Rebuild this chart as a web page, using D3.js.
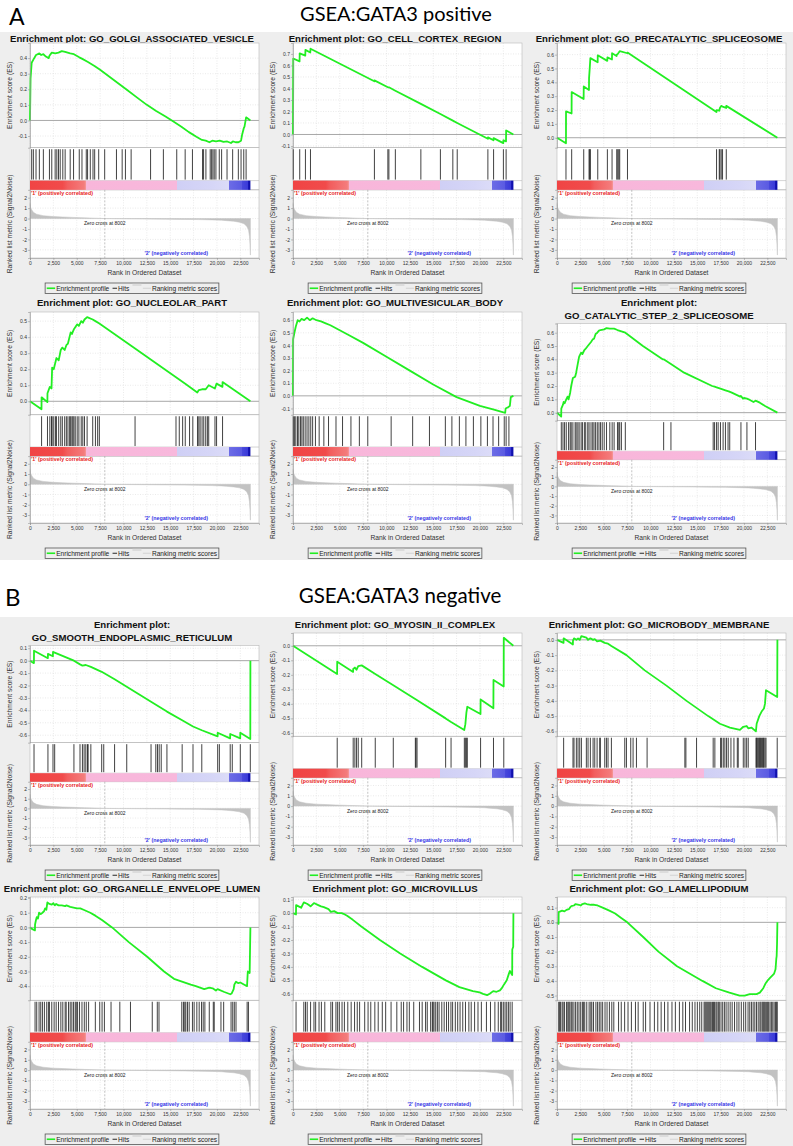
<!DOCTYPE html>
<html><head><meta charset="utf-8">
<script src="https://cdn.jsdelivr.net/npm/d3@7"></script>
<style>
body{margin:0;background:#fff;}
svg{display:block;}
text{font-family:"Liberation Sans",Arial,sans-serif;}
</style></head><body>
<svg id="c" width="793" height="1146"></svg>
<script>
// ---------------- DATA ----------------
const xTicks = [0,2500,5000,7500,10000,12500,15000,17500,20000,22500];
const metricTicks = [2,1,0,-1,-2,-3];
const N_GENES = 23580;
const RANK_MAX = 24500;
const ZERO_CROSS = 8002;
const METRIC_DOMAIN = [-3.78, 2.75];

const metricCurve = [[0,1.45],[60,1.1],[180,0.85],[360,0.6],[700,0.42],[1400,0.28],[2500,0.19],[3500,0.15],[4600,0.11],[5800,0.07],[7000,0.035],[8002,0],[9500,-0.02],[12000,-0.04],[14500,-0.06],[16500,-0.08],[18000,-0.1],[19500,-0.13],[20500,-0.16],[21000,-0.2],[21800,-0.26],[22400,-0.35],[22900,-0.5],[23200,-0.75],[23380,-1.1],[23480,-1.7],[23540,-2.5],[23580,-3.5]];

const colorBarStops = [[0,"#f04444"],[3500,"#f14b4b"],[4000,"#f25e5e"],[5800,"#f47c7c"],[5990,"#f59a9a"],[6000,"#f8b6da"],[15700,"#f8b8dc"],[15710,"#cfcff5"],[19500,"#d6d6f7"],[21300,"#dcdcf8"],[21310,"#6c6ce6"],[22700,"#5a5ae2"],[22710,"#4848dc"],[23300,"#3a3ad8"],[23310,"#1a1ab8"],[23580,"#0a0aa8"]];

const titles = [
 ["Enrichment plot: GO_GOLGI_ASSOCIATED_VESICLE"],
 ["Enrichment plot: GO_CELL_CORTEX_REGION"],
 ["Enrichment plot: GO_PRECATALYTIC_SPLICEOSOME"],
 ["Enrichment plot: GO_NUCLEOLAR_PART"],
 ["Enrichment plot: GO_MULTIVESICULAR_BODY"],
 ["Enrichment plot:","GO_CATALYTIC_STEP_2_SPLICEOSOME"],
 ["Enrichment plot:","GO_SMOOTH_ENDOPLASMIC_RETICULUM"],
 ["Enrichment plot: GO_MYOSIN_II_COMPLEX"],
 ["Enrichment plot: GO_MICROBODY_MEMBRANE"],
 ["Enrichment plot: GO_ORGANELLE_ENVELOPE_LUMEN"],
 ["Enrichment plot: GO_MICROVILLUS"],
 ["Enrichment plot: GO_LAMELLIPODIUM"]
];

const esDomains = [[-0.175,0.497],[-0.115,0.795],[-0.072,0.684],[-0.084,0.557],[-0.15,0.665],[-0.06,0.669],
                   [-0.66,0.122],[-0.623,0.088],[-0.632,0.045],[-0.496,0.207],[-0.648,0.12],[-0.532,0.173]];

const golgiCurve = [[0,0],[60,0.27],[180,0.37],[360,0.39],[645,0.42],[1000,0.43],[1200,0.42],[1430,0.425],[1700,0.41],[2000,0.40],[2080,0.415],[2330,0.435],[2700,0.43],[3050,0.435],[3400,0.445],[3760,0.44],[4300,0.43],[4700,0.425],[5270,0.405],[5600,0.395],[6200,0.375],[6900,0.35],[7500,0.325],[8500,0.28],[9500,0.235],[10500,0.19],[11500,0.145],[12500,0.1],[13500,0.06],[14500,0.025],[15300,-0.005],[16200,-0.04],[17000,-0.075],[17800,-0.105],[18400,-0.125],[18800,-0.13],[19200,-0.14],[19500,-0.13],[19900,-0.135],[20300,-0.13],[20700,-0.138],[21100,-0.135],[21500,-0.145],[21700,-0.135],[22000,-0.14],[22300,-0.14],[22580,-0.13],[22700,-0.09],[22870,-0.05],[22950,-0.04],[23120,0.02],[23300,0.012],[23580,0.0]];
const golgiHits = [180,360,645,1000,1430,2080,2330,2690,2870,3050,3230,3510,3760,4300,4660,5270,5560,6020,6160,6450,6740,6920,7350,7990,9250,9860,10210,10820,12900,14270,15700,16600,17380,18460,18570,18820,19280,19430,19570,19710,19890,20250,20500,21080,21680,22290,22580,22870,23120];

const cortexCurve = [[0,0],[30,0.66],[700,0.635],[720,0.705],[1310,0.685],[1330,0.735],[1850,0.713],[1870,0.745],[8700,0.462],[8710,0.47],[10150,0.41],[10260,0.41],[10950,0.38],[13680,0.266],[15770,0.178],[17100,0.12],[17570,0.1],[20850,-0.037],[20860,-0.025],[21450,-0.05],[21460,-0.032],[22500,-0.075],[22510,-0.05],[22790,-0.06],[22800,0.035],[23580,0.0]];
const cortexHits = [30,720,1330,1870,8710,10150,10260,10950,13680,15770,17100,17570,20850,21460,22510,22800];

const precatCurve = [[0,0],[960,-0.04],[965,0.19],[1560,0.175],[1570,0.33],[2850,0.28],[2860,0.37],[3420,0.345],[3430,0.43],[3500,0.5],[3570,0.575],[4350,0.545],[4360,0.595],[5380,0.555],[5390,0.58],[5880,0.565],[5890,0.61],[6380,0.59],[6390,0.6],[6500,0.605],[6610,0.615],[6710,0.625],[7530,0.61],[7540,0.615],[17060,0.185],[17070,0.2],[17360,0.195],[17430,0.215],[17570,0.23],[17710,0.225],[18100,0.215],[18110,0.23],[23580,0.0]];
const precatHits = [960,1570,2860,3430,3500,3570,4360,5390,5890,6390,6500,6610,6710,7540,17070,17360,17430,17570,17710,18110];

const nucleolarCurve = [[0,0],[1230,-0.05],[1240,0.025],[1860,-0.005],[1870,0.05],[2120,0.09],[2300,0.08],[2370,0.21],[2540,0.2],[2830,0.27],[3070,0.255],[3290,0.32],[3460,0.335],[3710,0.32],[3890,0.35],[4060,0.36],[4350,0.43],[4490,0.42],[4700,0.45],[5050,0.48],[5230,0.47],[5480,0.5],[5650,0.49],[5830,0.51],[6110,0.525],[6710,0.51],[7000,0.5],[7420,0.485],[11240,0.33],[15620,0.15],[16610,0.11],[17900,0.055],[18060,0.07],[18400,0.075],[18800,0.075],[19120,0.1],[19780,0.08],[19960,0.11],[20590,0.09],[20600,0.12],[23580,0.0]];
const nucleolarHits = [1240,1870,2120,2300,2370,2540,2720,2830,3070,3290,3460,3710,3890,4060,4240,4350,4490,4590,4700,4840,5050,5230,5480,5650,5830,6110,6710,7000,7240,7420,11240,15620,15970,16330,16610,17070,17420,17920,18060,18200,18410,18590,18800,18980,19120,19790,19960,20600];

const multiCurve = [[0,0],[20,0.45],[150,0.5],[300,0.55],[500,0.6],[700,0.59],[900,0.61],[1200,0.6],[1500,0.62],[1800,0.6],[2100,0.615],[2500,0.6],[3000,0.59],[3500,0.575],[4000,0.56],[5000,0.52],[6000,0.48],[7500,0.42],[10000,0.31],[12500,0.2],[15000,0.09],[17500,-0.01],[20000,-0.08],[21500,-0.11],[22700,-0.135],[22750,-0.1],[23000,-0.09],[23200,-0.08],[23300,-0.01],[23580,0.0]];
const multiHits = [30,150,300,480,620,800,950,1100,1300,1500,1700,1900,2100,2400,2800,3300,3800,4600,5300,6200,7100,8000,10500,12800,14600,16300,17000,17800,18500,19300,20100,20800,21400,22000,22600,22800,23100];

const catCurve = [[0,0],[450,-0.03],[460,0.03],[640,0.06],[710,0.08],[810,0.07],[990,0.1],[1130,0.12],[1240,0.1],[1410,0.15],[1520,0.2],[1700,0.26],[1940,0.27],[2050,0.3],[2230,0.37],[2370,0.42],[2580,0.45],[2720,0.44],[2930,0.47],[3070,0.48],[3290,0.5],[3640,0.53],[3820,0.55],[3960,0.555],[4130,0.59],[4310,0.6],[4490,0.615],[4660,0.62],[5050,0.625],[5300,0.635],[5650,0.63],[6110,0.63],[6470,0.62],[6890,0.61],[7310,0.6],[7600,0.585],[9190,0.5],[11300,0.4],[11410,0.4],[12190,0.365],[13600,0.3],[16600,0.2],[16860,0.195],[17070,0.19],[17490,0.18],[18020,0.168],[18370,0.16],[18700,0.15],[19600,0.12],[19680,0.125],[19900,0.105],[20000,0.11],[20320,0.105],[20500,0.1],[21020,0.08],[21240,0.09],[21700,0.075],[22260,0.05],[23580,0.0]];
const catHits = [460,640,810,990,1240,1410,1520,1700,1940,2050,2230,2370,2580,2720,2930,3070,3290,3430,3640,3820,3960,4130,4310,4490,4660,4840,5050,5300,5650,5900,6110,6470,6610,6710,6890,7310,11410,12190,16710,16860,17070,17240,17490,17770,18020,18300,18480,19680,20320,21240];

const smoothCurve = [[0,0],[420,-0.02],[430,0.08],[1910,0.02],[1920,0.055],[2450,0.035],[2460,0.07],[2640,0.065],[4700,0.0],[5350,-0.03],[5610,-0.04],[5970,-0.035],[6510,-0.05],[7670,-0.09],[9050,-0.15],[10350,-0.21],[12950,-0.33],[14650,-0.41],[16280,-0.48],[17440,-0.53],[18380,-0.56],[20070,-0.61],[20080,-0.58],[21410,-0.625],[21420,-0.59],[22490,-0.625],[22500,-0.58],[23570,-0.63],[23580,0.0]];
const smoothHits = [430,1920,2460,2640,4700,5350,5610,5790,5970,6150,6220,6510,7670,7890,9050,10350,12950,13460,13640,13820,14040,14650,16280,17440,18380,20080,20260,21420,21640,22500,23570];

const myosinCurve = [[0,0],[4720,-0.195],[4730,-0.11],[6430,-0.18],[6440,-0.16],[6620,-0.15],[6790,-0.165],[6980,-0.14],[7350,-0.135],[8800,-0.195],[10730,-0.272],[13160,-0.37],[16330,-0.5],[16910,-0.525],[18320,-0.58],[18440,-0.54],[18550,-0.46],[18650,-0.42],[20060,-0.47],[20070,-0.37],[21440,-0.43],[21450,-0.235],[22540,-0.28],[22550,0.055],[23580,0.0]];
const myosinHits = [4730,6440,6620,6800,6980,7350,8800,10730,13090,13160,13270,16330,16910,18330,18440,18550,18650,20070,21450,22550];

const microbodyCurve = [[0,0],[700,-0.02],[710,0.01],[1700,-0.03],[1710,-0.005],[1820,0.01],[2070,0.0],[2250,0.01],[2430,0.0],[2610,0.025],[3140,0.015],[3320,0.0],[3570,0.01],[3860,0.0],[4040,0.005],[4290,-0.01],[4640,-0.005],[5110,-0.02],[5460,-0.025],[5820,-0.04],[7430,-0.1],[9390,-0.2],[11710,-0.3],[13860,-0.4],[16180,-0.5],[17430,-0.55],[18500,-0.575],[19570,-0.59],[19930,-0.57],[20290,-0.565],[20460,-0.58],[20800,-0.575],[21280,-0.6],[21360,-0.55],[21640,-0.5],[21890,-0.47],[22140,-0.45],[22250,-0.42],[22360,-0.33],[23560,-0.375],[23580,0.0]];
const microbodyHits = [710,1710,1820,2070,2250,2430,2610,3140,3320,3570,3860,4040,4290,4570,4640,5110,5290,5460,5820,7250,7430,7890,8140,8500,9640,13680,13790,14930,16710,16890,17500,17610,17790,17960,18140,18320,18610,18930,19290,19390,19930,20110,20290,20460,21290,21360,21430,21540,21640,21710,21790,21890,22000,22070,22140,22250,22360,23560];

const organelleCurve = [[0,0],[200,-0.01],[530,-0.02],[540,0.02],[640,0.05],[720,0.07],[850,0.06],[970,0.1],[1150,0.09],[1330,0.1],[1500,0.11],[1620,0.13],[1750,0.12],[1860,0.17],[2080,0.16],[2330,0.155],[2500,0.165],[2650,0.15],[2800,0.16],[3050,0.15],[3400,0.15],[3760,0.145],[3900,0.15],[4300,0.14],[4660,0.135],[5020,0.13],[5380,0.13],[5730,0.12],[6090,0.11],[6450,0.1],[6990,0.08],[7700,0.05],[8780,0.0],[10570,-0.1],[12540,-0.2],[14340,-0.3],[15400,-0.35],[17200,-0.39],[17740,-0.4],[18640,-0.42],[19180,-0.41],[19540,-0.415],[19890,-0.43],[20070,-0.42],[20790,-0.44],[21430,-0.455],[21580,-0.45],[21790,-0.42],[21860,-0.39],[22040,-0.37],[22290,-0.38],[22500,-0.375],[22930,-0.39],[23220,-0.4],[23300,-0.3],[23500,-0.31],[23580,0.0]];
const organelleHits = [540,720,970,1150,1330,1540,1790,1970,2080,2330,2580,2800,3050,3300,3510,3760,3870,4120,4300,4480,4660,4840,4950,5090,5300,5560,5810,6020,6270,6990,7460,7710,7960,8670,9610,10750,13080,13620,13800,16240,16420,16560,16670,16850,17030,17380,17560,17850,18100,18350,18530,18710,19180,19610,19710,20430,20720,21510,21690,21860,22040,23230,23370];

const microvillusCurve = [[0,0],[320,-0.01],[330,0.06],[600,0.05],[870,0.04],[1160,0.08],[1500,0.07],[1700,0.06],[1880,0.05],[2240,0.075],[2700,0.06],[3000,0.05],[3300,0.045],[3800,0.03],[4050,0.01],[4400,0.015],[4780,0.0],[5200,0.0],[5400,-0.005],[5790,-0.02],[6400,-0.05],[7310,-0.1],[9300,-0.2],[11470,-0.3],[13820,-0.4],[16350,-0.5],[17800,-0.55],[19250,-0.58],[19970,-0.59],[20330,-0.6],[20770,-0.61],[21050,-0.6],[21420,-0.58],[21780,-0.585],[22140,-0.575],[22320,-0.56],[22580,-0.53],[22870,-0.5],[23100,-0.45],[23200,-0.43],[23450,-0.46],[23460,-0.27],[23560,-0.25],[23580,0.0]];
const microvillusHits = [326,1158,1339,1520,1881,2243,2424,2786,3039,3401,4052,4233,4595,4776,4957,5246,5499,5861,6223,6585,6874,7127,7670,8032,8321,8755,9117,9552,9914,10492,11107,11578,11831,12193,12446,12916,13531,13820,14183,14363,14725,14906,14979,15087,15268,15449,15630,15919,16172,16425,16642,16896,17077,17366,17620,17873,18162,18452,18814,19067,19429,19791,20152,20695,21129,21599,21961,22214,22323,22504,22685,22866,23046,23227,23450];

const lamelliCurve = [[0,0],[170,-0.01],[180,0.07],[540,0.08],[800,0.075],[1010,0.085],[1270,0.09],[1380,0.1],[1520,0.11],[1810,0.115],[1990,0.125],[2350,0.12],[2530,0.115],[2720,0.125],[2970,0.13],[3180,0.125],[3620,0.12],[3980,0.12],[4340,0.115],[4880,0.1],[5600,0.08],[6220,0.06],[6870,0.03],[7520,0.0],[9220,-0.1],[10850,-0.2],[12840,-0.3],[15560,-0.4],[17000,-0.45],[18450,-0.48],[19540,-0.5],[20080,-0.5],[20620,-0.49],[21350,-0.49],[21700,-0.48],[22070,-0.45],[22290,-0.42],[22500,-0.4],[22790,-0.38],[23080,-0.36],[23230,-0.35],[23380,-0.32],[23460,-0.25],[23500,-0.23],[23540,-0.15],[23580,0.0]];
const lamelliHits = [181,289,362,543,651,796,1013,1158,1266,1375,1520,1628,1809,1990,2171,2352,2533,2714,2822,2967,3184,3437,3618,3727,3907,4161,4342,4523,4703,4884,5138,5355,5608,5861,6078,6585,6874,7236,7598,7960,8394,8683,9226,9479,9950,10420,10782,11143,11505,11867,12301,12663,13097,13459,13748,14183,14472,14761,15015,15268,15485,15738,15847,15955,16064,16172,16281,16390,16498,16643,16751,16860,17005,17113,17258,17366,17547,17728,17909,18090,18307,18524,18741,18995,19248,19465,19718,19972,20188,20441,20622,20803,20984,21165,21346,21527,21708,21817,21961,22070,22178,22287,22432,22540,22649,22794,22938,23083,23228,23372,23500,23560];

// -------------- BUILD TABLE ----------------
const curves = [golgiCurve,cortexCurve,precatCurve,nucleolarCurve,multiCurve,catCurve,smoothCurve,myosinCurve,microbodyCurve,organelleCurve,microvillusCurve,lamelliCurve];
const hitsList = [golgiHits,cortexHits,precatHits,nucleolarHits,multiHits,catHits,smoothHits,myosinHits,microbodyHits,organelleHits,microvillusHits,lamelliHits];
const panels = titles.map((t,i)=>({title:t, dom:esDomains[i], curve:curves[i], hits:hitsList[i]}));

// -------------- LAYOUT ----------------
const svg = d3.select("#c");
const BG = "#eeeeee";
const colX = [0,263,527];
const rows = [
  {titleY:38.5, plotTop:43, bottom:258},
  {titleY:302.5, plotTop:312, bottom:523},
  {titleY:624.5, plotTop:633, bottom:845},
  {titleY:888.5, plotTop:897, bottom:1109}
];
const GREEN = "#22ee22";

svg.append("rect").attr("x",0).attr("y",32).attr("width",793).attr("height",528).attr("fill",BG);
svg.append("rect").attr("x",0).attr("y",617).attr("width",793).attr("height",529).attr("fill",BG);

const hdrFont = "Lato, 'Open Sans', sans-serif";
svg.append("text").text("A").attr("x",9).attr("y",25).style("font-family",hdrFont).style("font-size","23px").attr("fill","#000");
svg.append("text").text("GSEA:GATA3 positive").attr("x",396).attr("y",21).attr("text-anchor","middle").style("font-family",hdrFont).style("font-size","20px").attr("fill","#000");
svg.append("text").text("B").attr("x",5).attr("y",606).style("font-family",hdrFont).style("font-size","24px").attr("fill","#000");
svg.append("text").text("GSEA:GATA3 negative").attr("x",400).attr("y",603).attr("text-anchor","middle").style("font-family",hdrFont).style("font-size","20.5px").attr("fill","#000");

const fmtX = d3.format(",");
const fmtES = v => (Math.abs(v)<1e-9?0:v).toFixed(1);

panels.forEach((p,i)=>{
  const col = i%3, row = rows[Math.floor(i/3)];
  const cx = colX[col];
  const cellC = cx + 132;
  const left = cx + 30, right = cx + 259, W = right-left;
  const two = p.title.length===2;
  const top = two ? row.titleY + 21 : row.plotTop;
  const bottom = row.bottom;
  const H = bottom - top;
  const esB = top + H*0.487;
  const cbT = esB + H*0.153;
  const cbB = cbT + H*0.043;
  const g = svg.append("g");

  const x = d3.scaleLinear().domain([0,RANK_MAX]).range([left,right]);
  const yE = d3.scaleLinear().domain(p.dom).range([esB,top]);
  const yM = d3.scaleLinear().domain(METRIC_DOMAIN).range([bottom,cbB]);

  p.title.forEach((t,k)=>{
    g.append("text").text(t).attr("x",cellC).attr("y",row.titleY+3.4+k*13.5)
     .attr("text-anchor","middle").style("font-size","9.6px").style("font-weight","bold").attr("fill","#111");
  });

  g.append("rect").attr("x",left).attr("y",top).attr("width",W).attr("height",bottom-top).attr("fill","#fff");

  const esTicks = d3.range(Math.ceil((p.dom[0]+0.004)*10), Math.floor((p.dom[1]-0.004)*10)+1).map(v=>v/10);

  const grid = g.append("g").attr("stroke","#d4d4d4").attr("stroke-width",0.5).attr("stroke-dasharray","1,1.5");
  xTicks.forEach(t=>{
    grid.append("line").attr("x1",x(t)).attr("x2",x(t)).attr("y1",top).attr("y2",esB);
    grid.append("line").attr("x1",x(t)).attr("x2",x(t)).attr("y1",cbB).attr("y2",bottom);
  });
  esTicks.forEach(t=>{ if(Math.abs(t)>1e-9) grid.append("line").attr("x1",left).attr("x2",right).attr("y1",yE(t)).attr("y2",yE(t)); });
  metricTicks.forEach(t=>{ grid.append("line").attr("x1",left).attr("x2",right).attr("y1",yM(t)).attr("y2",yM(t)); });

  g.append("line").attr("x1",left).attr("x2",right).attr("y1",yE(0)).attr("y2",yE(0)).attr("stroke","#a8a8a8").attr("stroke-width",1);

  const fr = g.append("g").attr("fill","none").attr("stroke","#b8b8b8").attr("stroke-width",0.6);
  fr.append("rect").attr("x",left).attr("y",top).attr("width",W).attr("height",esB-top);
  fr.append("rect").attr("x",left).attr("y",esB).attr("width",W).attr("height",cbB-esB);
  fr.append("line").attr("x1",left).attr("x2",right).attr("y1",cbT).attr("y2",cbT);
  fr.append("rect").attr("x",left).attr("y",cbB).attr("width",W).attr("height",bottom-cbB);

  g.append("path").datum(p.curve)
   .attr("d", d3.line().x(d=>x(d[0])).y(d=>yE(d[1])))
   .attr("fill","none").attr("stroke",GREEN).attr("stroke-width",1.8).attr("stroke-linejoin","round");

  g.append("g").selectAll("line").data(p.hits).join("line")
   .attr("x1",d=>x(d)).attr("x2",d=>x(d)).attr("y1",esB+1.5).attr("y2",cbT-1)
   .attr("stroke","#111").attr("stroke-width",0.8);

  const gid = "cb"+i;
  const grad = svg.append("defs").append("linearGradient").attr("id",gid)
    .attr("gradientUnits","userSpaceOnUse").attr("x1",x(0)).attr("x2",x(N_GENES)).attr("y1",0).attr("y2",0);
  colorBarStops.forEach(s=>{
    grad.append("stop").attr("offset",(x(s[0])-x(0))/(x(N_GENES)-x(0))).attr("stop-color",s[1]);
  });
  g.append("rect").attr("x",x(0)).attr("y",cbT).attr("width",x(N_GENES)-x(0)).attr("height",cbB-cbT).attr("fill",`url(#${gid})`);

  g.append("path").datum(metricCurve)
   .attr("d", d3.area().x(d=>x(d[0])).y0(yM(0)).y1(d=>yM(d[1])))
   .attr("fill","#c2c2c2").attr("stroke","#c2c2c2").attr("stroke-width",0.5);

  g.append("line").attr("x1",x(ZERO_CROSS)).attr("x2",x(ZERO_CROSS)).attr("y1",cbB).attr("y2",bottom)
   .attr("stroke","#9a9a9a").attr("stroke-width",0.6).attr("stroke-dasharray","2,1.5");

  g.append("text").text("'1' (positively correlated)").attr("x",left+1).attr("y",cbB+5.2)
   .style("font-size","5.3px").style("font-weight","bold").attr("fill","#e82020");
  g.append("text").text("Zero cross at "+ZERO_CROSS).attr("x",x(ZERO_CROSS)).attr("y",yM(0)+6.6)
   .attr("text-anchor","middle").style("font-size","5px").attr("fill","#222");
  g.append("text").text("'2' (negatively correlated)").attr("x",x(15650)).attr("y",bottom-2.6)
   .attr("text-anchor","middle").style("font-size","5.3px").style("font-weight","bold").attr("fill","#3535e6");

  const axE = d3.axisLeft(yE).tickValues(esTicks).tickSize(2).tickPadding(1).tickFormat(fmtES);
  const aE = g.append("g").attr("transform",`translate(${left},0)`).call(axE);
  const axM = d3.axisLeft(yM).tickValues(metricTicks).tickSize(2).tickPadding(1).tickFormat(d=>String(d));
  const aM = g.append("g").attr("transform",`translate(${left},0)`).call(axM);
  const axX = d3.axisBottom(x).tickValues(xTicks).tickSize(2).tickPadding(1).tickFormat(fmtX);
  const aX = g.append("g").attr("transform",`translate(0,${bottom})`).call(axX);
  [aE,aM,aX].forEach(a=>{
    a.selectAll("text").style("font-size","5px").style("font-family","'Liberation Sans',Arial,sans-serif").attr("fill","#333");
    a.selectAll("line").attr("stroke","#888").attr("stroke-width",0.5);
    a.select(".domain").attr("stroke","#999").attr("stroke-width",0.6);
  });

  g.append("text").text("Enrichment score (ES)").attr("transform",`translate(${cx+12},${(top+esB)/2}) rotate(-90)`)
   .attr("text-anchor","middle").style("font-size","6.7px").attr("fill","#333");
  g.append("text").text("Ranked list metric (Signal2Noise)").attr("transform",`translate(${cx+12},${(cbB+bottom)/2}) rotate(-90)`)
   .attr("text-anchor","middle").style("font-size","6.7px").attr("fill","#333");
  g.append("text").text("Rank in Ordered Dataset").attr("x",(left+right)/2).attr("y",bottom+17)
   .attr("text-anchor","middle").style("font-size","6.7px").attr("fill","#333");

  const ly = bottom+25, lh = 10.5, lm = ly+lh/2;
  const lg = g.append("g");
  const box = lg.append("rect").attr("y",ly).attr("height",lh).attr("fill",BG).attr("stroke","#555").attr("stroke-width",0.8);
  let cur = 0;
  const items = [];
  function addLine(w,color,sw){ items.push({type:"line",x:cur,w,color,sw}); cur+=w; }
  function addText(t){ const el = lg.append("text").text(t).style("font-size","6.6px").attr("fill","#222"); const tw = el.node().getComputedTextLength(); items.push({type:"text",el,x:cur}); cur+=tw; }
  cur = 1.6; addLine(8.4,GREEN,1.6); cur+=1; addText("Enrichment profile"); cur+=3.3;
  addLine(4.5,"#111",0.9); cur+=1; addText("Hits"); cur+=3;
  items.push({type:"blob",x:cur}); cur+=10.5;
  addLine(8,"#cfcfcf",0.9); cur+=1; addText("Ranking metric scores"); cur+=1.7;
  const bx = cellC - cur/2;
  box.attr("x",bx).attr("width",cur);
  items.forEach(it=>{
    if(it.type==="line") lg.append("line").attr("x1",bx+it.x).attr("x2",bx+it.x+it.w).attr("y1",lm).attr("y2",lm).attr("stroke",it.color).attr("stroke-width",it.sw);
    else if(it.type==="text") it.el.attr("x",bx+it.x).attr("y",lm+2.3);
    else lg.append("rect").attr("x",bx+it.x).attr("y",ly+0.8).attr("width",9).attr("height",2.2).attr("fill","#dcdcdc");
  });
});
</script></body></html>
